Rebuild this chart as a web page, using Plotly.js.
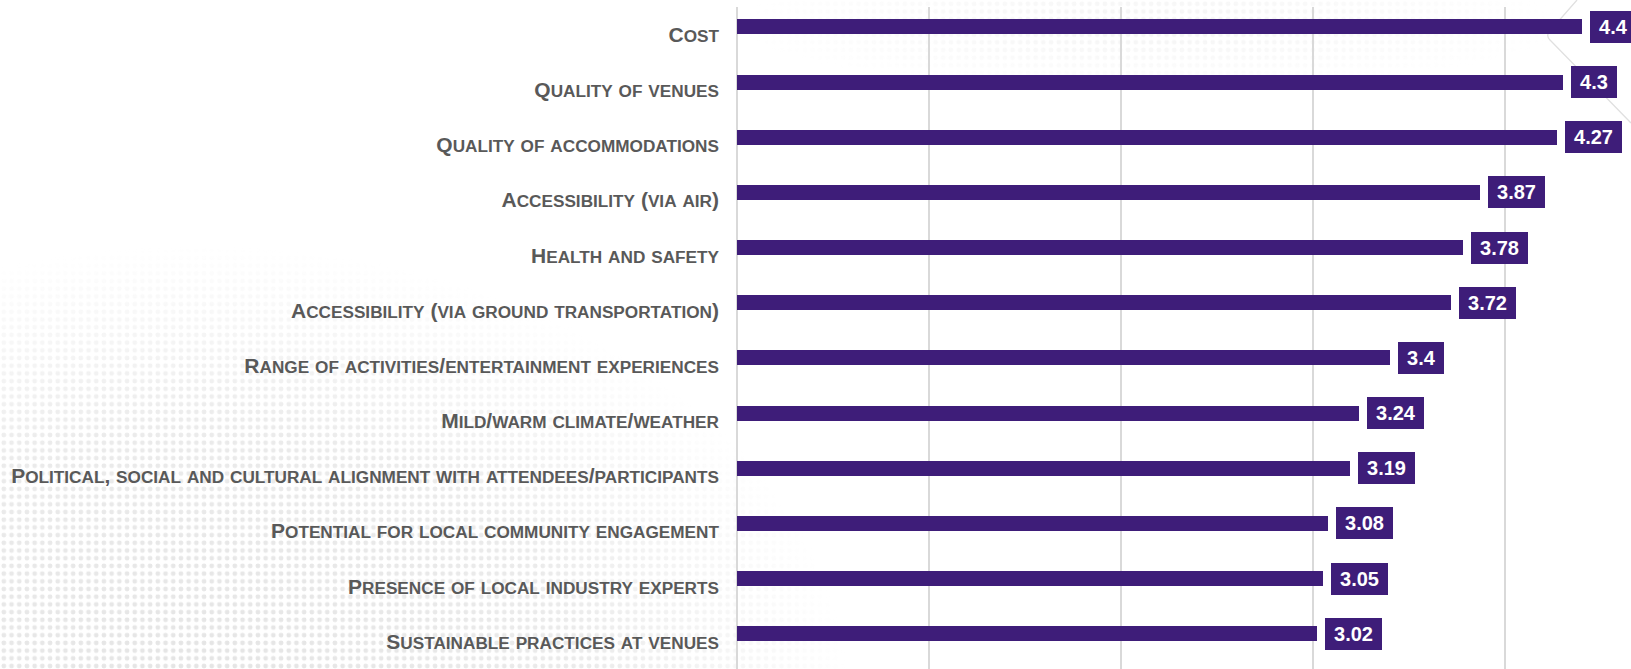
<!DOCTYPE html>
<html>
<head>
<meta charset="utf-8">
<script src="https://cdn.plot.ly/plotly-3.0.1.min.js"></script>
<style>
  html, body { margin: 0; padding: 0; background: #ffffff; }
  #chart { width: 1631px; height: 669px; background-repeat: no-repeat; }
</style>
</head>
<body>
<div id="chart"></div>
<script>
const categories = [
  "Cost",
  "Quality of venues",
  "Quality of accommodations",
  "Accessibility (via air)",
  "Health and safety",
  "Accessibility (via ground transportation)",
  "Range of activities/entertainment experiences",
  "Mild/warm climate/weather",
  "Political, social and cultural alignment with attendees/participants",
  "Potential for local community engagement",
  "Presence of local industry experts",
  "Sustainable practices at venues"
];
const scores = [4.4, 4.3, 4.27, 3.87, 3.78, 3.72, 3.4, 3.24, 3.19, 3.08, 3.05, 3.02];
const scoreLabels = ["4.4", "4.3", "4.27", "3.87", "3.78", "3.72", "3.4", "3.24", "3.19", "3.08", "3.05", "3.02"];

const PURPLE = "#3e1d79";
const FONT = "'Liberation Sans', Arial, sans-serif";
const CAP_SIZE = 21;
const SMALL_SIZE = 17.2;

// faint decorative background (dot texture + thin outline), as in the source slide
const bgSvg =
  "<svg xmlns='http://www.w3.org/2000/svg' width='1631' height='669'>" +
  "<defs>" +
  "<pattern id='d' width='7.7' height='7.7' patternUnits='userSpaceOnUse'>" +
  "<circle cx='3.85' cy='3.85' r='2.4' fill='#e4e4e4'/></pattern>" +
  "<radialGradient id='g' cx='200' cy='700' r='650' gradientUnits='userSpaceOnUse' " +
  "gradientTransform='translate(200,700) scale(1,0.7) translate(-200,-700)'>" +
  "<stop offset='0' stop-color='#fff' stop-opacity='1'/>" +
  "<stop offset='0.6' stop-color='#fff' stop-opacity='0.75'/>" +
  "<stop offset='1' stop-color='#fff' stop-opacity='0'/></radialGradient>" +
  "<radialGradient id='g2' cx='1150' cy='25' r='420' gradientUnits='userSpaceOnUse' " +
  "gradientTransform='translate(1150,25) scale(1,0.15) translate(-1150,-25)'>" +
  "<stop offset='0' stop-color='#fff' stop-opacity='0.45'/>" +
  "<stop offset='1' stop-color='#fff' stop-opacity='0'/></radialGradient>" +
  "<mask id='m'><rect width='1631' height='669' fill='url(#g)'/></mask>" +
  "<mask id='m2'><rect width='1631' height='669' fill='url(#g2)'/></mask>" +
  "</defs>" +
  "<rect width='1631' height='669' fill='url(#d)' mask='url(#m)'/>" +
  "<rect width='1631' height='669' fill='url(#d)' mask='url(#m2)'/>" +
  "<path d='M1577,0 L1549,32 Q1546,36 1550,40 L1631,123' fill='none' stroke='#e0e0e0' stroke-width='1.3'/>" +
  "</svg>";
document.getElementById("chart").style.backgroundImage =
  'url("data:image/svg+xml;charset=utf-8,' + encodeURIComponent(bgSvg) + '")';

// manual small caps: lowercase letters become smaller capitals
function smallCaps(s) {
  let out = "";
  let run = "";
  const flush = () => {
    if (run) {
      out += '<span style="font-size:' + SMALL_SIZE + 'px">' + run.toUpperCase() + '</span>';
      run = "";
    }
  };
  for (const ch of s) {
    if (ch >= "a" && ch <= "z") {
      run += ch;
    } else {
      flush();
      out += ch;
    }
  }
  flush();
  return out;
}

const trace = {
  type: "bar",
  orientation: "h",
  y: categories,
  x: scores,
  width: 0.272,
  offset: -0.274,
  marker: { color: PURPLE, line: { width: 0 } },
  hoverinfo: "skip"
};

const annotations = categories.map((c, i) => ({
  x: scores[i],
  y: c,
  xref: "x",
  yref: "y",
  text: "\u2009" + scoreLabels[i] + "\u2009",
  showarrow: false,
  xanchor: "left",
  yanchor: "middle",
  xshift: 8,
  yshift: 7.6,
  bgcolor: PURPLE,
  borderpad: 5,
  borderwidth: 0,
  font: { family: FONT, size: 20, color: "#ffffff", weight: "bold" }
}));

const layout = {
  width: 1631,
  height: 669,
  margin: { l: 737, r: 0, t: 7, b: 0, pad: 0 },
  paper_bgcolor: "rgba(0,0,0,0)",
  plot_bgcolor: "rgba(0,0,0,0)",
  showlegend: false,
  bargap: 0,
  xaxis: {
    range: [0, 4.656],
    dtick: 1,
    tick0: 0,
    showgrid: true,
    gridcolor: "#d9d9d9",
    gridwidth: 1.3,
    zeroline: true,
    zerolinecolor: "#d9d9d9",
    zerolinewidth: 1.3,
    showticklabels: false,
    showline: false,
    ticks: "",
    fixedrange: true
  },
  yaxis: {
    type: "category",
    range: [11.5, -0.5],
    tickmode: "array",
    tickvals: categories,
    ticktext: categories.map(smallCaps),
    showgrid: false,
    zeroline: false,
    showline: false,
    ticks: "",
    ticklabelstandoff: 17,
    tickfont: { family: FONT, size: CAP_SIZE, color: "#595959", weight: "bold" },
    fixedrange: true
  },
  annotations: annotations
};

Plotly.newPlot("chart", [trace], layout, { displayModeBar: false, staticPlot: true });
</script>
</body>
</html>
